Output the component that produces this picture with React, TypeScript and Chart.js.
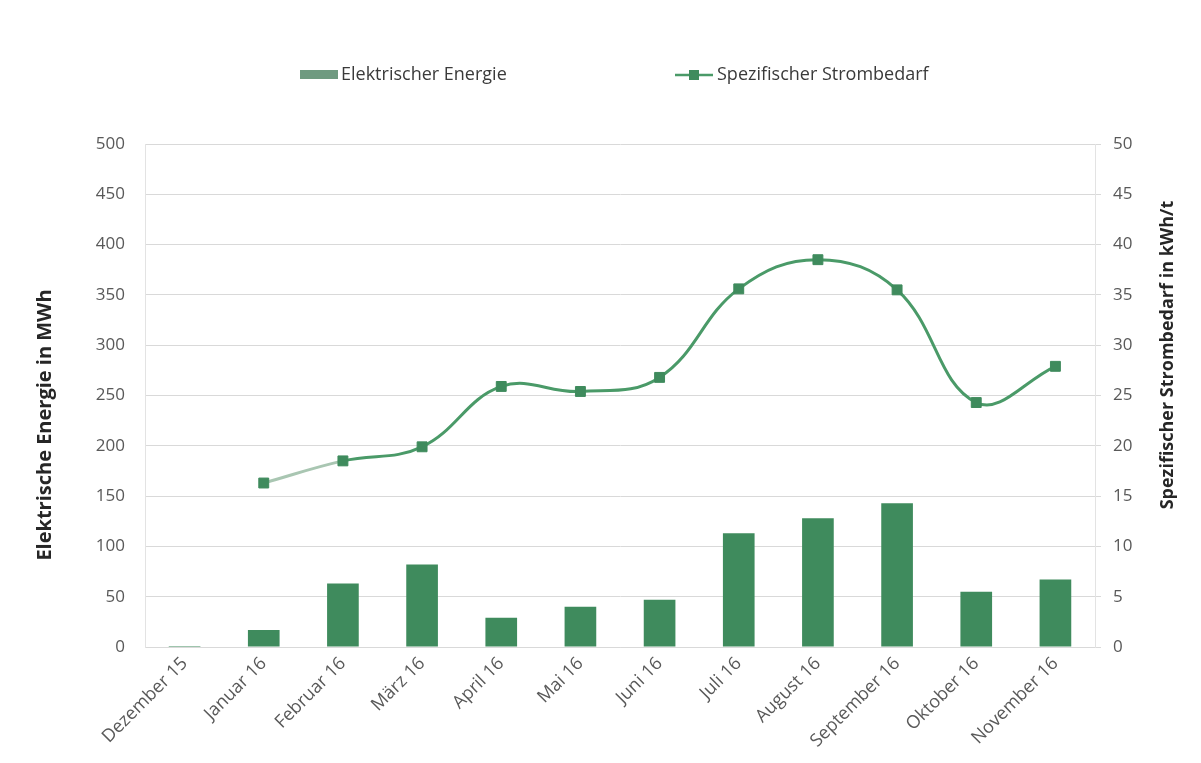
import React, { useEffect, useRef } from "react";
import { Chart, registerables } from "chart.js";

Chart.register(...registerables);

const categories = [
  "Dezember 15",
  "Januar 16",
  "Februar 16",
  "März 16",
  "April 16",
  "Mai 16",
  "Juni 16",
  "Juli 16",
  "August 16",
  "September 16",
  "Oktober 16",
  "November 16",
];

// Elektrische Energie in MWh
const energie = [1, 17, 63, 82, 29, 40, 47, 113, 128, 143, 55, 67];

// Spezifischer Strombedarf in kWh/t
const strombedarf = [null, 16.3, 18.5, 19.9, 25.9, 25.4, 26.8, 35.6, 38.5, 35.5, 24.3, 27.9];

const leftTitle = "Elektrische Energie in MWh";
const rightTitle = "Spezifischer Strombedarf in kWh/t";

const BAR_COLOR = "#3f8b5d";
const LINE_COLOR = "#4a9a68";
const LINE_FADED = "#a9c6b2";
const FONT = "'Open Sans', 'Liberation Sans', sans-serif";
const TICK_COLOR = "#595959";
const GRID_COLOR = "#d9d9d9";

// Legend across the top plus both axis titles, each reading bottom-to-top
const decorations = {
  id: "decorations",
  afterDraw(chart: any) {
    const ctx = chart.ctx;
    const y = 67;
    ctx.save();
    ctx.font = `18px ${FONT}`;
    ctx.textBaseline = "middle";
    ctx.textAlign = "left";

    // bar series
    ctx.fillStyle = "#6f9a80";
    ctx.fillRect(292, y - 5, 38, 9);
    ctx.fillStyle = "#3a3a3a";
    ctx.fillText(chart.data.datasets[0].label, 333, y);

    // line series
    ctx.strokeStyle = LINE_COLOR;
    ctx.lineWidth = 2.5;
    ctx.beginPath();
    ctx.moveTo(667, y);
    ctx.lineTo(705, y);
    ctx.stroke();
    ctx.fillStyle = BAR_COLOR;
    ctx.fillRect(681, y - 5, 10, 10);
    ctx.fillStyle = "#3a3a3a";
    ctx.fillText(chart.data.datasets[1].label, 709, y);

    // axis titles
    ctx.fillStyle = "#262626";
    ctx.textAlign = "center";
    ctx.save();
    ctx.font = `bold 20px ${FONT}`;
    ctx.translate(37, 417);
    ctx.rotate(-Math.PI / 2);
    ctx.fillText(leftTitle, 0, 0);
    ctx.restore();
    ctx.save();
    ctx.font = `bold 18px ${FONT}`;
    ctx.translate(1160, 347);
    ctx.rotate(-Math.PI / 2);
    ctx.fillText(rightTitle, 0, 0);
    ctx.restore();

    ctx.restore();
  },
};

export default function App() {
  const canvasRef = useRef<HTMLCanvasElement | null>(null);

  useEffect(() => {
    if (!canvasRef.current) return;
    const chart = new Chart(canvasRef.current, {
      type: "bar",
      data: {
        labels: categories,
        datasets: [
          {
            type: "bar",
            label: "Elektrischer Energie",
            data: energie,
            backgroundColor: BAR_COLOR,
            borderWidth: 0,
            barPercentage: 0.8,
            categoryPercentage: 0.5,
            yAxisID: "y",
            order: 2,
          },
          {
            type: "line",
            label: "Spezifischer Strombedarf",
            data: strombedarf,
            borderColor: LINE_COLOR,
            borderWidth: 3,
            tension: 0.4,
            pointStyle: "rect",
            pointRadius: 7,
            pointBackgroundColor: BAR_COLOR,
            pointBorderColor: BAR_COLOR,
            pointBorderWidth: 1,
            spanGaps: false,
            yAxisID: "y1",
            order: 1,
            segment: {
              borderColor: (c: any) => (c.p0DataIndex === 1 ? LINE_FADED : LINE_COLOR),
            },
          } as any,
        ],
      },
      options: {
        responsive: false,
        animation: false,
        layout: { padding: { top: 136, left: 0, right: 0, bottom: 0 } },
        plugins: {
          legend: { display: false },
          tooltip: { enabled: false },
        },
        scales: {
          x: {
            grid: { display: false, drawTicks: false },
            border: { display: true, color: GRID_COLOR, width: 1 },
            ticks: {
              color: TICK_COLOR,
              font: { family: FONT, size: 18 },
              minRotation: 45,
              maxRotation: 45,
              padding: 6,
              autoSkip: false,
            },
            afterFit: (s: any) => {
              s.height = 108;
            },
          },
          y: {
            position: "left",
            min: 0,
            max: 500,
            ticks: {
              stepSize: 50,
              color: TICK_COLOR,
              font: { family: FONT, size: 17 },
              padding: 20,
            },
            grid: { color: GRID_COLOR, drawTicks: false, lineWidth: 1 },
            border: { display: true, color: "#e3e3e3" },
            afterFit: (s: any) => {
              s.width = 137;
            },
          },
          y1: {
            position: "right",
            min: 0,
            max: 50,
            ticks: {
              stepSize: 5,
              color: TICK_COLOR,
              font: { family: FONT, size: 17 },
              padding: 12,
            },
            grid: { drawOnChartArea: false, drawTicks: true, tickLength: 6, color: GRID_COLOR },
            border: { display: true, color: "#e3e3e3" },
            afterFit: (s: any) => {
              s.width = 98;
            },
          },
        },
      },
      plugins: [decorations],
    });
    return () => chart.destroy();
  }, []);

  return (
    <div style={{ width: 1185, height: 747 }}>
      <canvas ref={canvasRef} width={1185} height={747} style={{ display: "block" }} />
    </div>
  );
}
